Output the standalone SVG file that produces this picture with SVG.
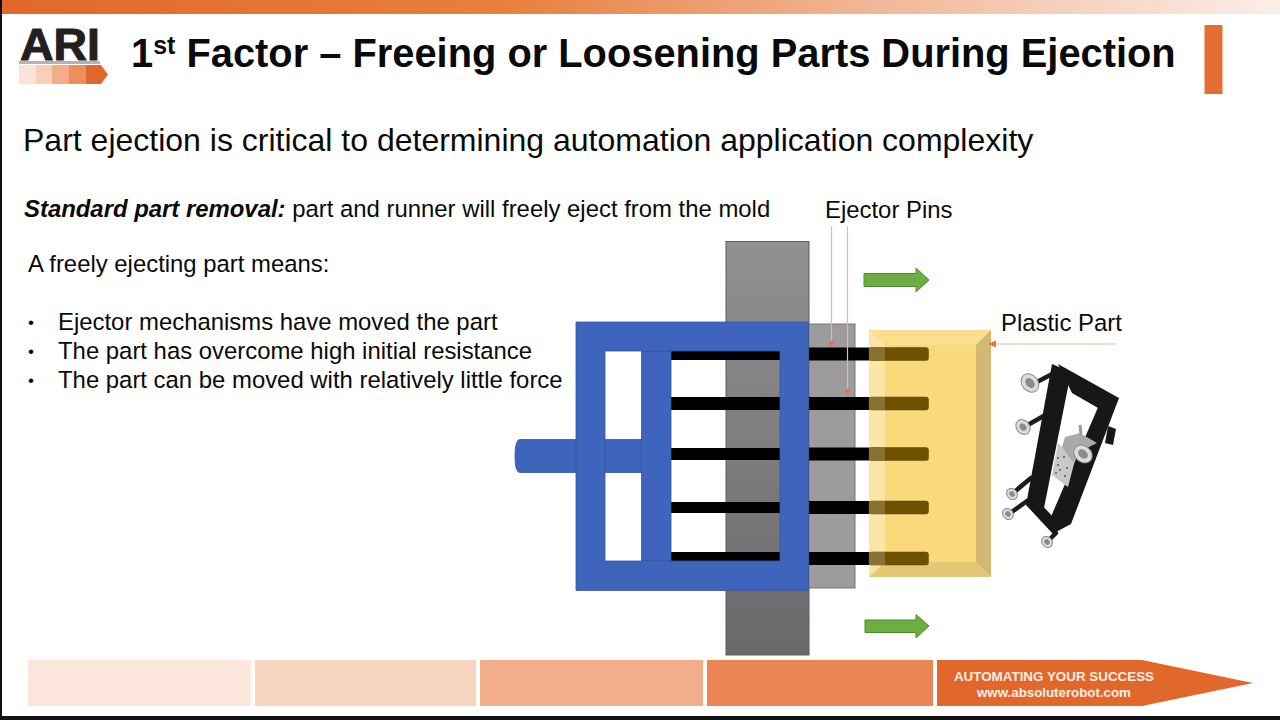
<svg xmlns="http://www.w3.org/2000/svg" width="1280" height="720" viewBox="0 0 1280 720">
<style>
text{font-family:"Liberation Sans",Arial,sans-serif;fill:#0a0a0a}
.b{font-size:23.900px}
.dot{font-size:17px}
.pin{fill:#000}
.pe{fill:#6f5200;stroke:#5f4700;stroke-width:.5}
.ln{stroke:#eeb596;stroke-width:1.2;fill:none}
.ah{fill:#e8743b}
.gr{fill:#6cae42;stroke:#4f8a2c;stroke-width:1}
.k{fill:#17171a}
.arm{stroke:#1c1c1f;stroke-width:4.500;fill:none;stroke-linecap:round}
.w{fill:#dcdcdc;stroke:#8a8a8a;stroke-width:1}
.wi{fill:#8a8a8d}
</style>
<defs>
<linearGradient id="top" x1="0" x2="1" y1="0" y2="0"><stop offset="0" stop-color="#e2672b"/><stop offset=".4" stop-color="#e8803f"/><stop offset=".65" stop-color="#f0b18e"/><stop offset="1" stop-color="#fbeee8"/></linearGradient>
<linearGradient id="gy" x1="0" x2="0" y1="0" y2="1"><stop offset="0" stop-color="#929092"/><stop offset="1" stop-color="#6a686a"/></linearGradient>
</defs>
<rect width="1280" height="720" fill="#fff"/>
<g id="frame">
<rect x="0" y="0" width="2" height="720" fill="#111"/>
<rect x="0" y="716" width="1280" height="4" fill="#111"/>
<rect x="2" y="0" width="1278" height="14" fill="url(#top)"/>
<rect x="1204.500" y="25" width="18" height="69" fill="#e56f32"/>
</g>
<g id="logo">
<text x="20" y="60" font-size="44" font-weight="700" style="fill:#231f20;stroke:#231f20;stroke-width:1" textLength="80" lengthAdjust="spacingAndGlyphs">ARI</text>
<rect x="19" y="61" width="81" height="3" fill="#b4b4b4"/>
<rect x="19" y="65" width="17" height="19" fill="#fce3d8"/>
<rect x="36" y="65" width="16" height="19" fill="#f9cfb9"/>
<rect x="52" y="65" width="17" height="19" fill="#f3ad88"/>
<rect x="69" y="65" width="17" height="19" fill="#ec8f5c"/>
<path d="M86 65H101L108 74.500L101 84H86Z" fill="#e2672b"/>
</g>
<g id="title">
<text x="131" y="67" font-size="39.850" font-weight="700">1<tspan font-size="25" dy="-13">st</tspan><tspan dy="13"> Factor – Freeing or Loosening Parts During Ejection</tspan></text>
</g>
<g id="body">
<text x="23" y="151" font-size="32">Part ejection is critical to determining automation application complexity</text>
<text x="24" y="217" class="b"><tspan font-weight="700" font-style="italic">Standard part removal:</tspan> part and runner will freely eject from the mold</text>
<text x="28" y="272" class="b">A freely ejecting part means:</text>
<text x="28" y="328" class="dot">•</text><text x="58" y="330" class="b">Ejector mechanisms have moved the part</text>
<text x="28" y="357" class="dot">•</text><text x="58" y="359" class="b">The part has overcome high initial resistance</text>
<text x="28" y="386" class="dot">•</text><text x="58" y="388" class="b">The part can be moved with relatively little force</text>
<text x="825" y="218" class="b">Ejector Pins</text>
<text x="1001" y="331" class="b">Plastic Part</text>
</g>
<g id="mold-plate"><rect x="726" y="241.500" width="83" height="413.500" fill="url(#gy)" stroke="#5f5d5f"/></g>
<g id="stripper-plate"><rect x="809" y="324" width="46" height="264" fill="#9d9b9e" stroke="#77757a"/></g>
<g id="pins-left">
<rect class="pin" x="671" y="351" width="109" height="9"/>
<rect class="pin" x="671" y="397" width="109" height="13"/>
<rect class="pin" x="671" y="448" width="109" height="12"/>
<rect class="pin" x="671" y="502" width="109" height="11"/>
<rect class="pin" x="671" y="552" width="109" height="9"/>
</g>
<g id="ejector-assembly" fill="#3f64bc" stroke="#35569f" stroke-width=".8">
<path d="M520 439.500H642V472.500H520Q515 472.500 515 456Q515 439.500 520 439.500Z"/>
<rect x="641.500" y="351" width="29.500" height="210"/>
<path fill-rule="evenodd" d="M576 322H808.500V590.500H576ZM605 351V561H780V351Z"/>
</g>
<g id="pins-right">
<rect class="pin" x="809" y="347.500" width="60" height="13"/>
<rect class="pin" x="809" y="397" width="60" height="13"/>
<rect class="pin" x="809" y="447.500" width="60" height="13"/>
<rect class="pin" x="809" y="501" width="60" height="13"/>
<rect class="pin" x="809" y="552" width="60" height="13"/>
</g>
<g id="plastic-part">
<rect x="869" y="330" width="122" height="247" fill="#fad97a"/>
<path d="M869 330H885V577H869Z" fill="#fce5a6"/>
<path d="M869 330H991L976 345H885Z" fill="#fbdf8e"/>
<path d="M991 330V577L976 562V345Z" fill="#d2b873"/>
<path d="M869 577L885 562H976L991 577Z" fill="#e6c778"/>
</g>
<g id="pin-tips">
<rect class="pe" x="869" y="347.500" width="59.500" height="13" rx="2.500"/>
<rect class="pe" x="869" y="397" width="59.500" height="13" rx="2.500"/>
<rect class="pe" x="869" y="447.500" width="59.500" height="13" rx="2.500"/>
<rect class="pe" x="869" y="501" width="59.500" height="13" rx="2.500"/>
<rect class="pe" x="869" y="552" width="59.500" height="13" rx="2.500"/>
<path d="M869 347.500h16v13h-16zM869 397h16v13h-16zM869 447.500h16v13h-16zM869 501h16v13h-16zM869 552h16v13h-16z" fill="#8a7133"/>
</g>
<g id="connectors">
<path class="ln" d="M831.500 226V342"/>
<path class="ah" d="M828 341H835L831.500 347.500Z"/>
<path class="ln" d="M847.500 226V390"/>
<path class="ah" d="M844 389H851L847.500 395.500Z"/>
<path class="ln" d="M1116 344H995"/>
<path class="ah" d="M996 340.500V347.500L988 344Z"/>
</g>
<g id="arrow-top"><path class="gr" d="M864 273.500H916V268L929 280L916 292V286.500H864Z"/></g>
<g id="arrow-bottom"><path class="gr" d="M865 620H916V614.500L929 626L916 638V632.500H865Z"/></g>
<g id="robot">
<path class="arm" d="M1035 383L1056 372"/>
<path class="arm" d="M1026 426L1047 414"/>
<path class="arm" d="M1013 493L1031 478"/>
<path class="arm" d="M1009 514L1027 501"/>
<path class="arm" d="M1047 542L1056 533"/>
<path class="k" d="M1052 364L1071 372L1043 513L1026 505Z"/>
<path class="k" d="M1058 364L1119 398L1105 412L1072 393Z"/>
<path class="k" d="M1102 398L1119 398L1071 524L1054 533L1050 519Z"/>
<path class="k" d="M1026 505L1040 503L1054 518L1062 526L1053 534Z"/>
<path d="M1108 426L1116 429L1113 445L1105 443Z" class="k"/>
<path d="M1058 443L1075 460L1068 487L1052 475Z" fill="#c8c8ca"/>
<path d="M1065 437L1080 433L1097 443L1083 450L1073 462L1062 447Z" fill="#a9a9ab"/>
<path d="M1080 425L1081 434" stroke="#9a9a9a" stroke-width="3"/>
<g fill="#55565a"><circle cx="1058" cy="458" r="1"/><circle cx="1064" cy="457" r="1"/><circle cx="1058" cy="465" r="1"/><circle cx="1060" cy="470" r="1"/><circle cx="1067" cy="468" r="1"/><circle cx="1065" cy="476" r="1"/><circle cx="1056" cy="473" r="1"/></g>
<ellipse class="w" cx="1083" cy="454" rx="10" ry="8" transform="rotate(40 1083 454)"/><ellipse class="wi" cx="1083" cy="454" rx="5.500" ry="4" transform="rotate(40 1083 454)"/>
<ellipse class="w" cx="1030" cy="383" rx="10" ry="8" transform="rotate(50 1030 383)"/><ellipse class="wi" cx="1030" cy="383" rx="5.500" ry="4" transform="rotate(50 1030 383)"/>
<ellipse class="w" cx="1023" cy="427" rx="8" ry="6.500" transform="rotate(50 1023 427)"/><ellipse class="wi" cx="1023" cy="427" rx="4" ry="3" transform="rotate(50 1023 427)"/>
<ellipse class="w" cx="1012" cy="494" rx="6" ry="5" transform="rotate(50 1012 494)"/><ellipse class="wi" cx="1012" cy="494" rx="3" ry="2.500" transform="rotate(50 1012 494)"/>
<ellipse class="w" cx="1008" cy="514" rx="6" ry="5" transform="rotate(50 1008 514)"/><ellipse class="wi" cx="1008" cy="514" rx="3" ry="2.500" transform="rotate(50 1008 514)"/>
<ellipse class="w" cx="1047" cy="542" rx="6" ry="5" transform="rotate(50 1047 542)"/><ellipse class="wi" cx="1047" cy="542" rx="3" ry="2.500" transform="rotate(50 1047 542)"/>
</g>
<g id="footer">
<rect x="28" y="660" width="223" height="46" fill="#fce5da"/>
<rect x="255" y="660" width="221" height="46" fill="#f7d5c0"/>
<rect x="480" y="660" width="223" height="46" fill="#f2ae8a"/>
<rect x="707" y="660" width="226" height="46" fill="#ea8656"/>
<path d="M937 660H1142L1253 683L1142 706H937Z" fill="#e2672b"/>
<text x="1054" y="681" font-size="13.400" font-weight="700" text-anchor="middle" style="fill:#fbeee6">AUTOMATING YOUR SUCCESS</text>
<text x="1054" y="697" font-size="13.300" font-weight="700" text-anchor="middle" style="fill:#fbeee6">www.absoluterobot.com</text>
</g>
</svg>
